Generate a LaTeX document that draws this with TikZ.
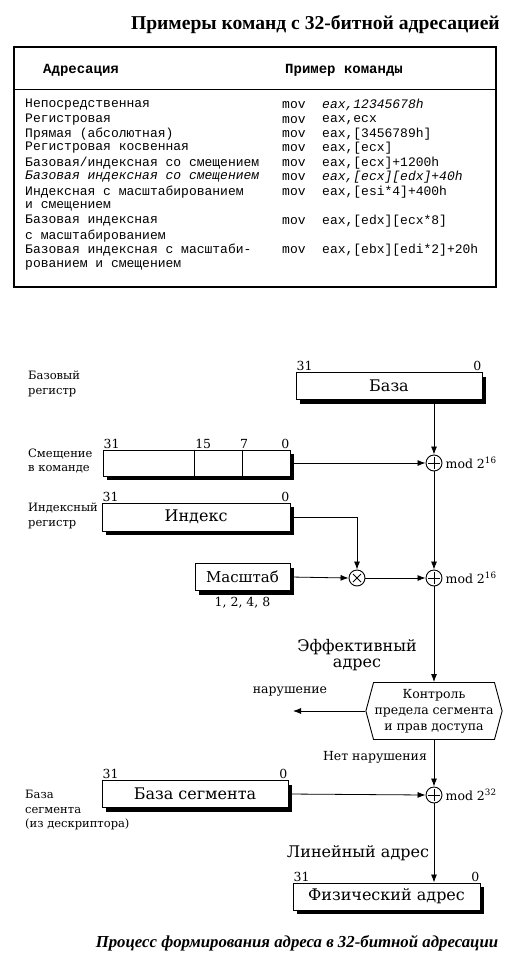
\documentclass[tikz,border=0pt]{standalone}
\usepackage{fontspec}
\setmainfont{Liberation Serif}
\setmonofont{Liberation Mono}
\newfontfamily\diagfont{DejaVu Serif}
\usetikzlibrary{shapes.symbols,arrows.meta,calc}

\tikzset{
  reg/.style={rectangle, draw, fill=white, line width=1pt, inner sep=0pt,
    minimum height=27,
    preaction={fill=black, transform canvas={shift={(4pt,-4pt)}}},
    font=\diagfont\fontsize{16}{18}\selectfont},
  sum/.style={circle, draw, fill=white, line width=0.9pt, minimum size=16, inner sep=0pt},
  addop/.style={sum, path picture={
    \draw[line width=0.8pt] ([yshift=-2pt]path picture bounding box.north)
        -- ([yshift=2pt]path picture bounding box.south)
        ([xshift=2pt]path picture bounding box.west)
        -- ([xshift=-2pt]path picture bounding box.east);}},
  mulop/.style={sum, path picture={
    \draw[line width=0.8pt] ([shift={(4pt,-4pt)}]path picture bounding box.north west)
        -- ([shift={(-4pt,4pt)}]path picture bounding box.south east)
        ([shift={(-4pt,-4pt)}]path picture bounding box.north east)
        -- ([shift={(4pt,4pt)}]path picture bounding box.south west);}},
  lbl/.style={anchor=west, align=left, inner sep=0pt,
    font=\diagfont\fontsize{11.5}{14.5}\selectfont},
  note/.style={inner sep=0pt, align=center, font=\diagfont\fontsize{12.5}{15}\selectfont},
  bit/.style={inner sep=1pt, font=\diagfont\fontsize{12.5}{14}\selectfont},
  flow/.style={line width=0.8pt, -{Latex[length=8pt,width=6pt]}},
  cell/.style={anchor=west, inner sep=0pt, font=\ttfamily\fontsize{13}{14}\selectfont},
}

\begin{document}
\begin{tikzpicture}[x=1pt, y=-1pt]
    \useasboundingbox (0,0) rectangle (517,971);
    % table of examples
    \node[anchor=east, inner sep=0pt, font=\bfseries\fontsize{19.6}{22}\selectfont]
        (title) at (500,25) {Примеры команд с 32-битной адресацией};
    \draw[line width=1.4pt] (14,47) rectangle (496,287);
    \draw[line width=1pt] (14,90) -- (496,90);
    \node[cell, font=\ttfamily\bfseries\fontsize{14}{15}\selectfont] (hmode) at (43,70) {Адресация};
    \node[cell, font=\ttfamily\bfseries\fontsize{14}{15}\selectfont] (hcmd) at (285,70) {Пример команды};
    \foreach \y/\txt [count=\i] in {
        105/{Непосредственная}, 120/{Регистровая}, 134/{Прямая (абсолютная)},
        148/{Регистровая косвенная}, 163/{Базовая/индексная со смещением},
        177/{\itshape Базовая индексная со смещением},
        192/{Индексная с масштабированием}, 206/{и смещением},
        221/{Базовая индексная}, 236/{с масштабированием},
        250/{Базовая индексная с масштаби-}, 265/{рованием и смещением}}
        \node[cell] (mode\i) at (25,\y) {\txt};
    \foreach \y/\txt [count=\i] in {
        105/{\itshape eax,12345678h}, 120/{eax,ecx}, 134/{eax,[3456789h]},
        148/{eax,[ecx]}, 163/{eax,[ecx]+1200h}, 177/{\itshape eax,[ecx][edx]+40h},
        192/{eax,[esi*4]+400h}, 221/{eax,[edx][ecx*8]},
        250/{eax,[ebx][edi*2]+20h}}
    {
        \node[cell] (mov\i) at (282,\y) {mov};
        \node[cell] (arg\i) at (322,\y) {\txt};
    }

    % address formation
    \node[lbl] (baselbl) at (28,384) {Базовый\\регистр};
    \node[reg, minimum width=186] (base) at (389,386) {База};
    \node[bit, anchor=south west] (base31) at (base.north west) {31};
    \node[bit, anchor=south east] (base0) at (base.north east) {0};

    \node[lbl] (offslbl) at (28,461) {Смещение\\в команде};
    \node[reg, minimum width=187, minimum height=26] (offs) at (196.5,463) {};
    \draw[line width=0.8pt] ($(offs.north west)!0.487!(offs.north east)$) coordinate (d15)
        -- ($(offs.south west)!0.487!(offs.south east)$);
    \draw[line width=0.8pt] ($(offs.north west)!0.743!(offs.north east)$) coordinate (d7)
        -- ($(offs.south west)!0.743!(offs.south east)$);
    \node[bit, anchor=south west] (offs31) at (offs.north west) {31};
    \node[bit, anchor=south west] (offs15) at (d15) {15};
    \node[bit, anchor=south] (offs7) at ([xshift=2pt]d7) {7};
    \node[bit, anchor=south east] (offs0) at (offs.north east) {0};

    \node[addop] (plus1) at (434,463) {};
    \node[lbl, font=\diagfont\fontsize{12.5}{14}\selectfont] (mod1) at ([xshift=3pt]plus1.east) {mod 2\textsuperscript{16}};

    \node[lbl] (idxlbl) at (28,516) {Индексный\\регистр};
    \node[reg, minimum width=188, minimum height=28] (index) at (196,517) {Индекс};
    \node[bit, anchor=south west] (idx31) at (index.north west) {31};
    \node[bit, anchor=south east] (idx0) at (index.north east) {0};

    \node[reg, minimum width=95, font=\diagfont\fontsize{15}{17}\selectfont]
        (scale) at (242.5,577) {Масштаб};
    \node[bit, anchor=north] (factors) at ([yshift=-5pt]scale.south) {1, 2, 4, 8};
    \node[mulop] (mul) at (357,578) {};
    \node[addop] (plus2) at (434,578) {};
    \node[lbl, font=\diagfont\fontsize{12.5}{14}\selectfont] (mod2) at ([xshift=3pt]plus2.east) {mod 2\textsuperscript{16}};

    \node[note, font=\diagfont\fontsize{16}{16}\selectfont] (efflbl) at (357,655) {Эффективный\\адрес};
    \node[signal, signal to=west and east, signal pointer angle=150, draw,
        line width=0.9pt, minimum width=124, minimum height=57, inner sep=1pt,
        align=center, font=\diagfont\fontsize{12.5}{16}\selectfont]
        (check) at (434,711) {Контроль\\предела сегмента\\и прав доступа};
    \node[note] (viol) at (290,692) {нарушение};
    \coordinate (violend) at (293,711);
    \node[note] (noviol) at (375,757) {Нет нарушения};

    \node[lbl] (seglbl) at (25,810) {База\\сегмента\\(из дескриптора)};
    \node[reg, minimum width=186] (segbase) at (195,794) {База сегмента};
    \node[bit, anchor=south west] (seg31) at (segbase.north west) {31};
    \node[bit, anchor=south east] (seg0) at (segbase.north east) {0};
    \node[addop] (plus3) at (434,795) {};
    \node[lbl, font=\diagfont\fontsize{12.5}{14}\selectfont] (mod3) at ([xshift=3pt]plus3.east) {mod 2\textsuperscript{32}};

    \node[note, font=\diagfont\fontsize{16}{16}\selectfont] (linlbl) at (358,853) {Линейный адрес};
    \node[reg, minimum width=187] (phys) at (386.5,896.5) {Физический адрес};
    \node[bit, anchor=south west] (phys31) at (phys.north west) {31};
    \node[bit, anchor=south east] (phys0) at (phys.north east) {0};

    \node[inner sep=0pt, font=\bfseries\itshape\fontsize{16.8}{17}\selectfont]
        (caption) at (297,943) {Процесс формирования адреса в 32-битной адресации};

    % connectors
    \draw[flow] (base.south -| plus1.north) -- (plus1.north);
    \draw[flow] (offs.east) -- (plus1.west);
    \draw[flow] (plus1.south) -- (plus2.north);
    \draw[flow] (index.east) -| (mul.north);
    \draw[flow] (scale.east) -- (mul.west);
    \draw[flow] (mul.east) -- (plus2.west);
    \draw[flow] (plus2.south) -- (check.north);
    \draw[flow] (check.west) -- (violend);
    \draw[flow] (check.south) -- (plus3.north);
    \draw[flow] (segbase.east) -- (plus3.west);
    \draw[flow] (plus3.south) -- (plus3.south |- phys.north);
\end{tikzpicture}
\end{document}
